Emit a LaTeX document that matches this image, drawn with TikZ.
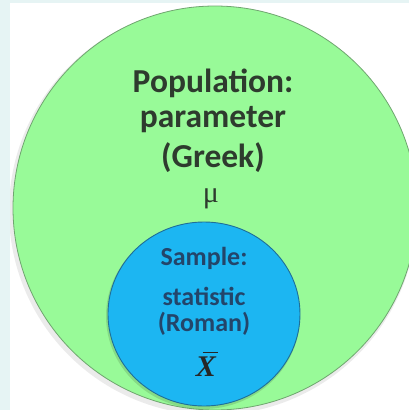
\documentclass[tikz,border=0pt]{standalone}
\usepackage{fontspec}
\setmainfont{Carlito}
\newfontfamily\serifx{Liberation Serif}
\definecolor{bgstrip}{HTML}{E6F4F4}
\definecolor{popgreen}{HTML}{98FA98}
\definecolor{popedge}{HTML}{6FA56F}
\definecolor{sampblue}{HTML}{1CB6F2}
\definecolor{sampedge}{HTML}{1F6F98}
\definecolor{poptext}{HTML}{2E3B2E}
\definecolor{samptext}{HTML}{23456A}
\newcommand{\barX}{\serifx\bfseries\itshape\rlap{\hspace{0.22em}\raisebox{0.78em}{\rule{0.5em}{0.05em}}}X}
\tikzset{
  poplabel/.style={font=\fontsize{33.5}{37}\selectfont\bfseries, text=poptext, align=center, inner sep=0pt},
  samplabel/.style={font=\fontsize{26}{28}\selectfont\bfseries, text=samptext, align=center, inner sep=0pt},
}
\begin{document}
\begin{tikzpicture}[x=1pt,y=-1pt]
\useasboundingbox (0,0) rectangle (409,410);
\fill[bgstrip] (0,0) rectangle (409,410);
\fill[white] (10,3) rectangle (409,410);
\begin{scope}
\clip (10,3) rectangle (409,410);
\fill[black,opacity=0.08] (213,211) circle (204);
\fill[popgreen, draw=popedge, line width=0.8pt] (215,208) circle (202);
\fill[black,opacity=0.12] (203,316) ellipse (97 and 93);
\fill[sampblue, draw=sampedge, line width=0.9pt] (204,314) ellipse (96 and 92);
\end{scope}
\node[poplabel] (pop) at (213,83) {Population:};
\node[poplabel] (par) at (213,120) {parameter};
\node[poplabel] (grk) at (213,158) {(Greek)};
\node[inner sep=0pt, text=poptext, font=\serifx\fontsize{30}{30}\selectfont] (mu) at (211,199) {μ};
\node[samplabel] (smp) at (204,258) {Sample:};
\node[samplabel] (sta) at (204,296) {statistic};
\node[samplabel] (rom) at (204,324) {(Roman)};
\node[inner sep=0pt, text=black!85, font=\fontsize{30}{30}\selectfont] (xbar) at (206,364) {\barX};
\end{tikzpicture}
\end{document}
